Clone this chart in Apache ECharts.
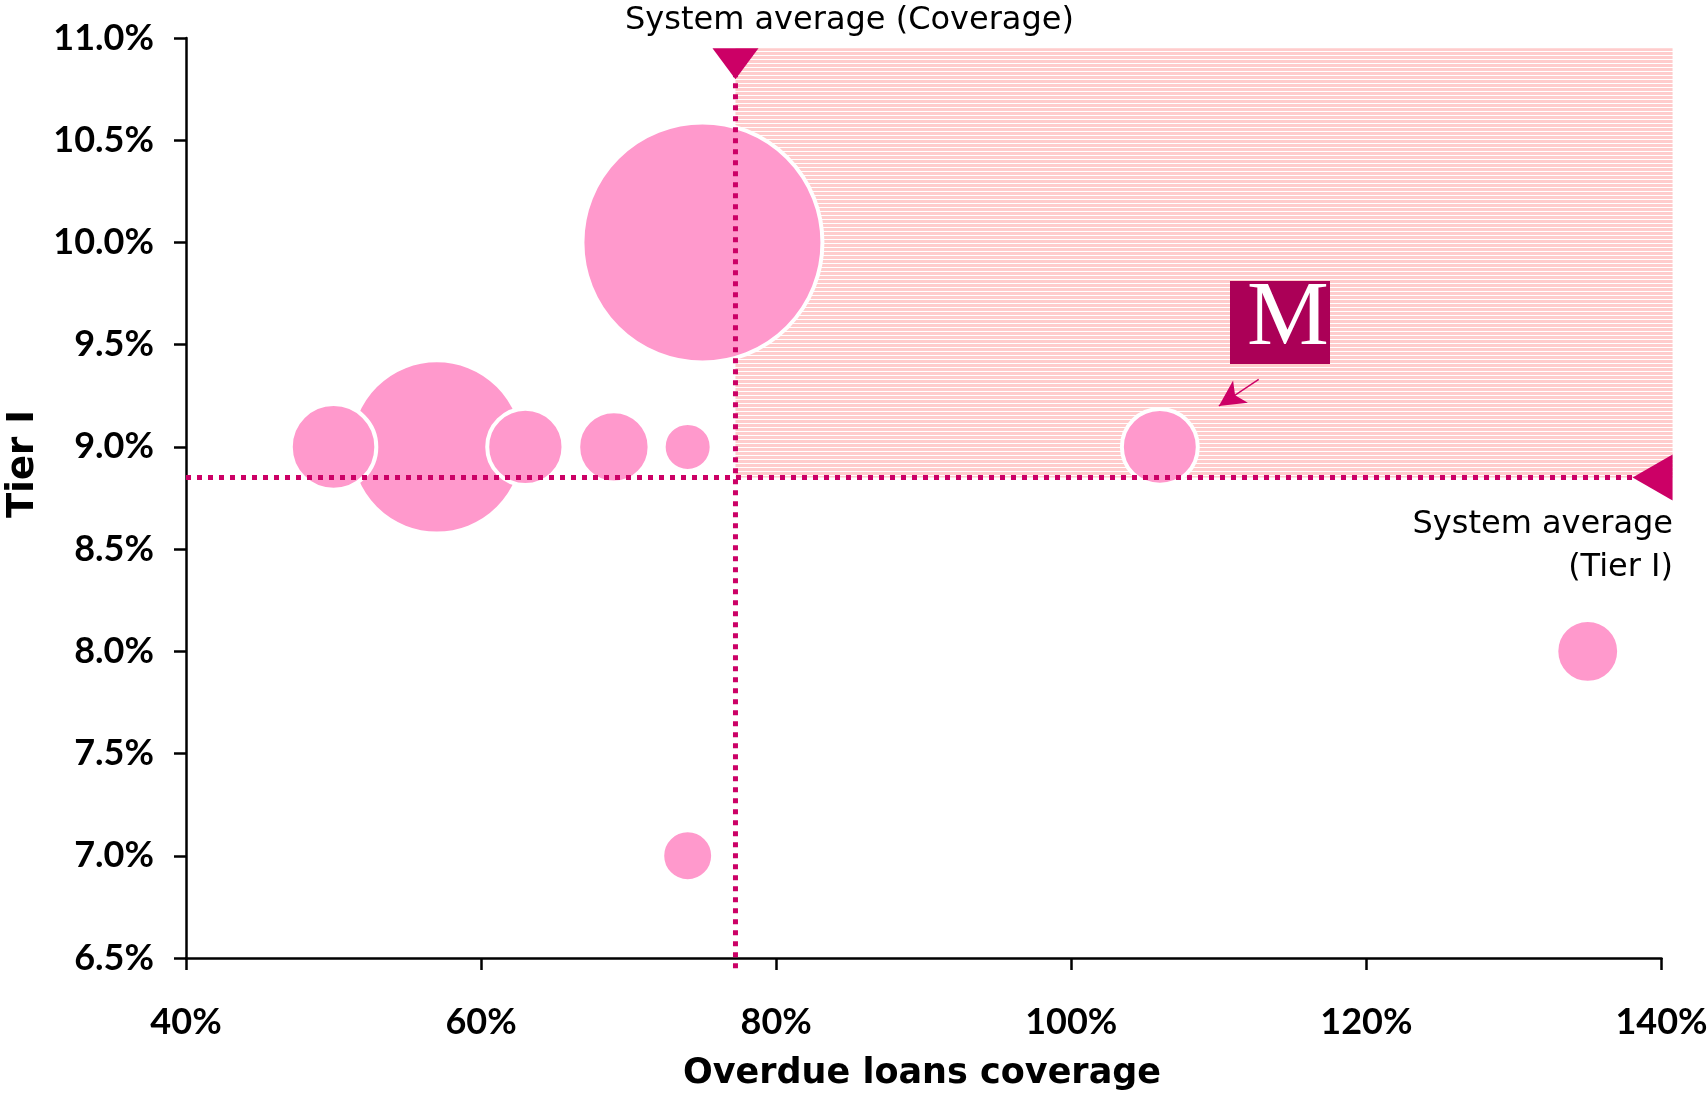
<!DOCTYPE html>
<html>
<head>
<meta charset="utf-8">
<title>Tier I vs overdue loans coverage</title>
<script src="https://cdn.jsdelivr.net/npm/echarts@6/dist/echarts.min.js"></script>
<style>
  html, body { margin: 0; padding: 0; background: #fff; }
  #chart { width: 1708px; height: 1101px; }
</style>
</head>
<body>
<div id="chart"></div>
<script>
// banks: overdue loans coverage (%), Tier I (%), relative bank size
const coverage = [75, 57, 50, 63, 69, 74, 106, 135, 74]
const tier1 = [10.0, 9.0, 9.0, 9.0, 9.0, 9.0, 9.0, 8.0, 7.0]
const bankSize = [100, 52.2, 12.7, 10.1, 8.85, 4.0, 10.0, 6.85, 4.5]

const xTicks = [40, 60, 80, 100, 120, 140]
const yTicks = [6.5, 7.0, 7.5, 8.0, 8.5, 9.0, 9.5, 10.0, 10.5, 11.0]

// system averages and the shaded zone above/right of them
const avgCoverage = 77.24
const avgTier1 = 8.85
const zoneRight = 140.75
const zoneTop = 10.95
const lineBottom = 6.45

// small arrow pointing at the Millennium bubble
const arrowFrom = [112.7, 9.33]
const arrowTo = [110.0, 9.2]

const PINK = '#ff99cc'
const MAGENTA = '#cc0066'
const TICK_FONT = 'Lato'
const TEXT_FONT = 'DejaVu Sans'

function hatch() {
  const c = document.createElement('canvas')
  c.width = 8
  c.height = 4
  const ctx = c.getContext('2d')
  ctx.fillStyle = '#ffcccc'
  ctx.fillRect(0, 0, 8, 4)
  ctx.fillStyle = '#ffffff'
  ctx.fillRect(0, 3, 8, 1)
  return c
}
const hatchPattern = { image: hatch(), repeat: 'repeat' }

const chart = echarts.init(document.getElementById('chart'))

const bubbles = coverage.map((x, i) => ({
  value: [x, tier1[i]],
  symbolSize: 24 * Math.sqrt(bankSize[i])
}))

const dotted = { color: MAGENTA, width: 5, type: [5, 6], cap: 'butt' }

chart.setOption({
  animation: false,
  backgroundColor: '#fff',
  grid: { left: 186, right: 46.5, top: 38, bottom: 143, containLabel: false, outerBoundsMode: 'none' },
  xAxis: {
    type: 'value',
    min: xTicks[0],
    max: xTicks[xTicks.length - 1],
    interval: xTicks[1] - xTicks[0],
    splitLine: { show: false },
    axisLine: { lineStyle: { color: '#000', width: 2.5 } },
    axisTick: { length: 12, lineStyle: { color: '#000', width: 2.5 } },
    axisLabel: {
      margin: 46,
      fontFamily: TICK_FONT,
      fontWeight: 'bold',
      fontSize: 36,
      color: '#000',
      formatter: v => v + '%'
    }
  },
  yAxis: {
    type: 'value',
    min: yTicks[0],
    max: yTicks[yTicks.length - 1],
    interval: yTicks[1] - yTicks[0],
    name: 'Tier I',
    nameLocation: 'middle',
    nameGap: 144,
    nameMoveOverlap: false,
    nameTextStyle: {
      fontFamily: TEXT_FONT, fontWeight: 'bold', fontSize: 37, color: '#000',
      padding: [0, 0, 0, 68]
    },
    splitLine: { show: false },
    axisLine: { lineStyle: { color: '#000', width: 2.5 } },
    axisTick: { length: 12, lineStyle: { color: '#000', width: 2.5 } },
    axisLabel: {
      margin: 32,
      fontFamily: TICK_FONT,
      fontWeight: 'bold',
      fontSize: 36,
      color: '#000',
      formatter: v => v.toFixed(1) + '%'
    }
  },
  series: [
    {
      name: 'zone',
      type: 'custom',
      clip: false,
      silent: true,
      z: 1,
      data: [[avgCoverage, avgTier1, zoneRight, zoneTop]],
      renderItem: (params, api) => {
        const p0 = api.coord([api.value(0), api.value(1)])
        const p1 = api.coord([api.value(2), api.value(3)])
        return {
          type: 'rect',
          shape: { x: p0[0], y: p1[1], width: p1[0] - p0[0], height: p0[1] - p1[1] },
          style: { fill: hatchPattern }
        }
      }
    },
    {
      name: 'banks',
      type: 'scatter',
      clip: false,
      z: 2,
      itemStyle: { color: PINK, borderColor: '#fff', borderWidth: 4, opacity: 1 },
      data: bubbles
    },
    {
      name: 'avgCoverage',
      type: 'line',
      clip: false,
      silent: true,
      z: 5,
      symbol: 'none',
      lineStyle: dotted,
      data: [[avgCoverage, lineBottom], [avgCoverage, zoneTop]]
    },
    {
      name: 'avgTier1',
      type: 'line',
      clip: false,
      silent: true,
      z: 5,
      symbol: 'none',
      lineStyle: dotted,
      data: [[xTicks[0], avgTier1], [zoneRight, avgTier1]]
    },
    {
      name: 'pointer',
      type: 'scatter',
      clip: false,
      data: [],
      markLine: {
        silent: true,
        symbol: ['none', 'arrow'],
        symbolSize: [20, 26],
        label: { show: false },
        lineStyle: { color: MAGENTA, width: 1.5, type: 'solid', opacity: 1 },
        data: [[{ coord: arrowFrom }, { coord: arrowTo }]]
      }
    },
    {
      name: 'avgMarkers',
      type: 'scatter',
      z: 10,
      clip: false,
      silent: true,
      symbol: 'triangle',
      itemStyle: { color: MAGENTA, opacity: 1 },
      data: [
        { value: [avgCoverage, zoneTop], symbolSize: [46, 31], symbolRotate: 180, symbolOffset: [0, 15.5] },
        { value: [zoneRight, avgTier1], symbolSize: [46, 40], symbolRotate: 90, symbolOffset: [-20, 0] }
      ]
    }
  ],
  graphic: [
    {
      type: 'text',
      x: 922,
      y: 1074,
      z: 100,
      style: {
        text: 'Overdue loans coverage',
        font: 'bold 35px "' + TEXT_FONT + '"',
        fill: '#000',
        align: 'center',
        verticalAlign: 'middle'
      }
    },
    {
      type: 'text',
      x: 625,
      y: 21,
      z: 100,
      style: {
        text: 'System average (Coverage)',
        font: '32px "' + TEXT_FONT + '"',
        fill: '#000',
        align: 'left',
        verticalAlign: 'middle'
      }
    },
    {
      type: 'text',
      x: 1673,
      y: 546,
      z: 100,
      style: {
        text: 'System average\n(Tier I)',
        font: '32px "' + TEXT_FONT + '"',
        lineHeight: 43,
        fill: '#000',
        align: 'right',
        verticalAlign: 'middle'
      }
    },
    {
      type: 'rect',
      z: 100,
      shape: { x: 1230, y: 281, width: 100, height: 83 },
      style: { fill: '#ab0057' }
    },
    {
      type: 'text',
      z: 101,
      x: 1288,
      y: 366,
      style: {
        text: 'M',
        font: '92px "Liberation Serif"',
        fill: '#fff',
        align: 'center',
        verticalAlign: 'bottom'
      }
    }
  ]
})
</script>
</body>
</html>
